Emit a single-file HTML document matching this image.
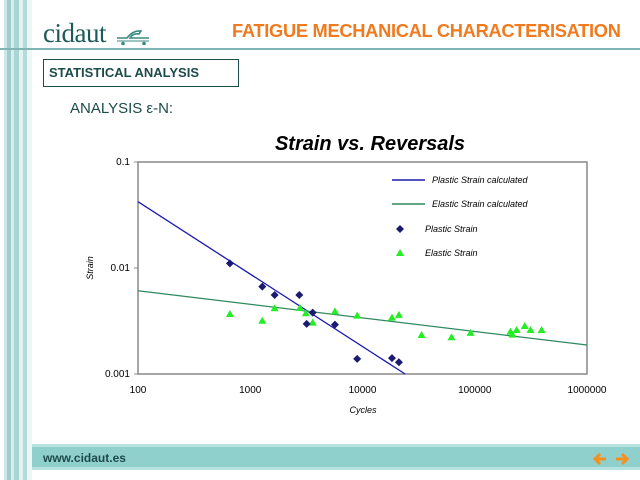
<!DOCTYPE html>
<html><head><meta charset="utf-8"><style>
body{margin:0;width:640px;height:480px;overflow:hidden;background:#fff;font-family:"Liberation Sans",sans-serif;position:relative}
.a{position:absolute}
</style></head><body>
<div class="a" style="left:0;top:0;width:32px;height:480px;background:linear-gradient(90deg,#fff 0 4px,#cfe7e6 4px 7px,#9ccfcd 7px 11px,#d8eeed 11px 14px,#a9d6d4 14px 19px,#e3f2f1 19px 23px,#b5dbd9 23px 27px,#eef7f7 27px 32px)"></div>
<div class="a" style="left:0;top:48px;width:640px;height:2px;background:#7fb5b5"></div>
<div class="a" style="left:43px;top:18px;font-family:'Liberation Serif',serif;font-size:27px;color:#1d5a5a;letter-spacing:-0.5px">cidaut</div>
<svg class="a" style="left:115px;top:28px" width="36" height="18"><path d="M2 10 L12 10 Q18 2 26 3 L24 6 Q18 5 15 10 L34 10" fill="none" stroke="#3a8a80" stroke-width="1.6"/><line x1="2" y1="13" x2="34" y2="13" stroke="#3a8a80" stroke-width="1"/><circle cx="8" cy="15.5" r="1.8" fill="#3a8a80"/><circle cx="29" cy="15.5" r="1.8" fill="#3a8a80"/></svg>
<div class="a" style="left:232px;top:20px;font-size:18.3px;font-weight:bold;color:#f07a1e;letter-spacing:-0.3px">FATIGUE MECHANICAL CHARACTERISATION</div>
<div class="a" style="left:43px;top:59px;width:196px;height:28px;border:1px solid #1d4a4a;box-sizing:border-box;font-size:13px;font-weight:bold;color:#1d4a4a;padding:5px 0 0 5px">STATISTICAL ANALYSIS</div>
<div class="a" style="left:70px;top:100px;font-size:15px;color:#1d4a4a">ANALYSIS ε-N:</div>
<div class="a" style="left:32px;top:444px;width:608px;height:26px;background:#8fd0cd;border-top:3px solid #b8e2e0;border-bottom:3px solid #b8e2e0;box-sizing:border-box"></div>
<div class="a" style="left:43px;top:451px;font-size:12px;font-weight:bold;color:#1d4a4a">www.cidaut.es</div>
<svg class="a" style="left:592px;top:451px" width="16" height="16"><path d="M14 8 H3 M8 3 L3 8 L8 13" fill="none" stroke="#f5901e" stroke-width="3"/></svg>
<svg class="a" style="left:614px;top:451px" width="16" height="16"><path d="M2 8 H13 M8 3 L13 8 L8 13" fill="none" stroke="#f5901e" stroke-width="3"/></svg>
<svg class="a" style="left:0;top:0" width="640" height="480" id="chart"></svg>
<script>
const xTicks=[100,1000,10000,100000,1000000];
const xTickLabels=["100","1000","10000","100000","1000000"];
const yTicks=[0.001,0.01,0.1];
const yTickLabels=["0.001","0.01","0.1"];
const plasticN=[659,1280,1650,2735,3180,3600,5680,8970,18300,21100];
const plasticStrain=[0.01107,0.00667,0.00556,0.00556,0.00297,0.00379,0.00292,0.00139,0.00141,0.00129];
const elasticN=[659,1280,1650,2770,3130,3600,5680,8970,18300,21100,33600,62100,91800,208000,217000,236000,279000,314000,394000];
const elasticStrain=[0.00368,0.00318,0.00417,0.00420,0.00374,0.00305,0.00390,0.00355,0.00340,0.00361,0.00233,0.00222,0.00244,0.00251,0.00235,0.00260,0.00284,0.00260,0.00260];
const plasticFitCoef=[0.0422,-0.683];
const elasticFitCoef=[0.0061,-0.128];
const L=138,R=587,T=162,B=374;
const X=v=>L+(Math.log10(v)-2)/4*(R-L);
const Y=v=>T+(-1-Math.log10(v))/2*(B-T);
const svg=document.getElementById('chart');const NS='http://www.w3.org/2000/svg';
function mk(t,a,txt){const e=document.createElementNS(NS,t);for(const k in a)e.setAttribute(k,a[k]);if(txt!=null)e.textContent=txt;svg.appendChild(e);return e;}
let e;
e=mk('text',{x:370,y:150,'text-anchor':'middle','font-size':20,'font-style':'italic','font-weight':'bold','font-family':'Liberation Sans'},'Strain vs. Reversals');


e=mk('rect',{x:L,y:T,width:R-L,height:B-T,fill:'none',stroke:'#888','stroke-width':1.5});


xTicks.forEach((v,i)=>{const t=mk('text',{x:X(v),y:393,'text-anchor':'middle','font-size':10,'font-family':'Liberation Sans'},xTickLabels[i]);

});
yTicks.forEach((v,i)=>{const t=mk('text',{x:L-8,y:Y(v)+3,'text-anchor':'end','font-size':10,'font-family':'Liberation Sans'},yTickLabels[i]);


const k=mk('line',{x1:L-4,x2:L,y1:Y(v),y2:Y(v),stroke:'#888'});

});
e=mk('text',{x:363,y:413,'text-anchor':'middle','font-size':9,'font-style':'italic'},'Cycles');


e=mk('text',{x:0,y:0,'text-anchor':'middle','font-size':9,'font-style':'italic',transform:'translate(93,268) rotate(-90)'},'Strain');


function fitLine(c,xmax,col,name){const x0=100;let x1=xmax;const ymin=0.001;const xAt=Math.pow(10,2+Math.log10(ymin/c[0])/c[1]);if(xAt<x1)x1=xAt;
const l=mk('line',{x1:X(x0),y1:Y(c[0]),x2:X(x1),y2:Y(c[0]*Math.pow(x1/100,c[1])),stroke:col,'stroke-width':1.3});

}
fitLine(plasticFitCoef,1e6,'#1a1ab0','plastic-fit-line');
fitLine(elasticFitCoef,1e6,'#2e8a5e','elastic-fit-line');
elasticN.forEach((n,i)=>{const x=X(n),y=Y(elasticStrain[i]);const p=mk('polygon',{points:`${x},${y-4} ${x-4},${y+3} ${x+4},${y+3}`,fill:'#22ee22'});

});
plasticN.forEach((n,i)=>{const x=X(n),y=Y(plasticStrain[i]);const p=mk('polygon',{points:`${x},${y-4} ${x+4},${y} ${x},${y+4} ${x-4},${y}`,fill:'#1a1a70'});

});
const lg=[['line','#1a1ab0','Plastic Strain calculated',180],['line','#2e8a5e','Elastic Strain calculated',204],['dia','#1a1a70','Plastic Strain',229],['tri','#22ee22','Elastic Strain',253]];
lg.forEach(d=>{const y=d[3];let m;
if(d[0]=='line')m=mk('line',{x1:392,x2:425,y1:y,y2:y,stroke:d[1],'stroke-width':1.5});
else if(d[0]=='dia')m=mk('polygon',{points:`400,${y-4} 404,${y} 400,${y+4} 396,${y}`,fill:d[1]});
else m=mk('polygon',{points:`400,${y-4} 396,${y+3} 404,${y+3}`,fill:d[1]});


const t=mk('text',{x:d[0]=='line'?432:425,y:y+3,'font-size':9,'font-style':'italic'},d[2]);

});
</script>
</body></html>
